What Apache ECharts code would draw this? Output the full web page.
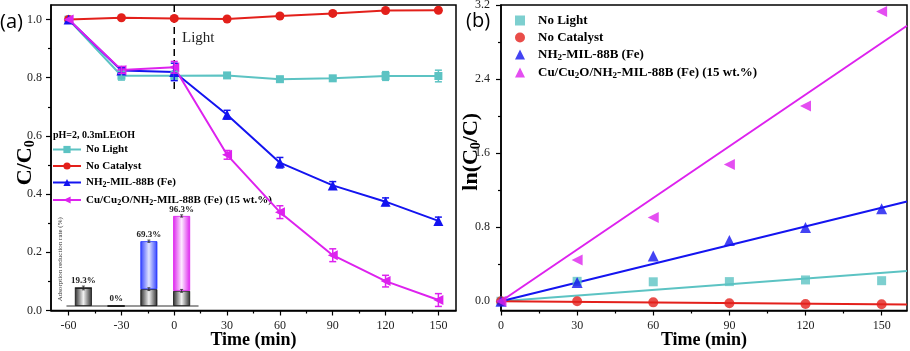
<!DOCTYPE html>
<html><head><meta charset="utf-8">
<script src="https://cdn.jsdelivr.net/npm/echarts@6/dist/echarts.min.js"></script>
<style>html,body{margin:0;padding:0;background:#fff}#c{width:910px;height:351px}</style>
</head><body><div id="c"></div>
<script>
// ---------------- data (panel a) ----------------
const timeA = [-60, -30, 0, 30, 60, 90, 120, 150];
const noLightA = [1.0, 0.807, 0.807, 0.808, 0.795, 0.798, 0.806, 0.806];
const noLightErr = [0, 0.015, 0.015, 0.008, 0.005, 0.006, 0.015, 0.02];
const noCatA = [1.0, 1.006, 1.004, 1.002, 1.012, 1.021, 1.031, 1.032];
const noCatErr = [0, 0.005, 0.005, 0.004, 0.006, 0.006, 0.006, 0.006];
const mil88A = [1.0, 0.825, 0.82, 0.673, 0.508, 0.43, 0.374, 0.308];
const mil88Err = [0, 0.01, 0.03, 0.015, 0.018, 0.013, 0.013, 0.013];
const cuA = [1.0, 0.827, 0.836, 0.535, 0.338, 0.19, 0.101, 0.036];
const cuErr = [0, 0.012, 0.02, 0.015, 0.022, 0.022, 0.02, 0.022];
const lightTime = 0;
const lightSpan = [1.05, 0.75];
const xTicksA = [-60, -30, 0, 30, 60, 90, 120, 150];
const yTicksA = [0, 0.2, 0.4, 0.6, 0.8, 1.0];
// inset bars
const insetCats = ['No Light', 'No Catalyst', 'NH2-MIL-88B (Fe)', 'Cu/Cu2O/NH2-MIL-88B (Fe)'];
const insetTotal = [19.3, 0, 69.3, 96.3];
const insetAds = [19.3, 0, 18.0, 16.2];
const insetErrTop = [2, 0, 1.2, 1.2];
const insetErrAds = [0, 0, 1.5, 1.5];
// ---------------- data (panel b) ----------------
const timeB = [0, 30, 60, 90, 120, 150];
const noLightB = [0, 0.215, 0.21, 0.212, 0.23, 0.222];
const noCatB = [0, 0, -0.012, -0.022, -0.03, -0.032];
const mil88B = [0, 0.203, 0.49, 0.655, 0.796, 0.999];
const cuB = [0, 0.445, 0.905, 1.477, 2.11, 3.13];
const rateK = [0.00204, -0.000225, 0.00674, 0.0186];
const fitRange = [0, 160];
const xTicksB = [0, 30, 60, 90, 120, 150];
const yTicksB = [0, 0.8, 1.6, 2.4, 3.2];

// ---------------- styling ----------------
const SERIF = '"Liberation Serif","Times New Roman",serif';
const C_CYAN = '#5cc3c3', C_RED = '#e3201b', C_BLUE = '#1414f0', C_MAG = '#dd22ee';
const mids = a => a.slice(0, -1).map((v, i) => (v + a[i + 1]) / 2);
const zip = (xs, ys) => xs.map((x, i) => [x, ys[i]]);
const subRichA = { sub: { fontFamily: SERIF, fontWeight: 'bold', fontSize: 8, padding: [5, 0, 0, 0] } };
const subRichB = { sub: { fontFamily: SERIF, fontWeight: 'bold', fontSize: 9, padding: [6, 0, 0, 0] } };
const legendText = {
  a1: 'No Light', a2: 'No Catalyst', a3: 'NH{sub|2}-MIL-88B (Fe)', a4: 'Cu/Cu{sub|2}O/NH{sub|2}-MIL-88B (Fe) (15 wt.%)',
  b1: 'No Light', b2: 'No Catalyst', b3: 'NH{sub|2}-MIL-88B (Fe)', b4: 'Cu/Cu{sub|2}O/NH{sub|2}-MIL-88B (Fe) (15 wt.%)'
};

function mainX(grid, min, max, ticks, name) {
  return {
    type: 'value', gridIndex: grid, min, max, position: 'bottom',
    name, nameLocation: 'middle', nameGap: 21, nameMoveOverlap: false,
    nameTextStyle: { fontFamily: SERIF, fontWeight: 'bold', fontSize: 18, color: '#000' },
    axisLine: { show: true, onZero: false, lineStyle: { color: '#000', width: 1.5 } },
    axisTick: { show: true, customValues: ticks, length: 5, lineStyle: { color: '#000', width: 1.2 } },
    axisLabel: { customValues: ticks, fontFamily: SERIF, fontSize: 12, color: '#222', margin: 9 },
    splitLine: { show: false }
  };
}
function minorX(grid, min, max, ticks) {
  return {
    type: 'value', gridIndex: grid, min, max, position: 'bottom',
    axisLine: { show: false, onZero: false },
    axisTick: { show: true, customValues: ticks, length: 3, lineStyle: { color: '#000', width: 1.2 } },
    axisLabel: { show: false }, splitLine: { show: false }
  };
}
function mainY(grid, min, max, ticks, name, gap, margin, namePad) {
  return {
    type: 'value', gridIndex: grid, min, max, position: 'left',
    name, nameLocation: 'middle', nameGap: gap, nameMoveOverlap: false,
    nameTextStyle: { fontFamily: SERIF, fontWeight: 'bold', fontSize: 22, color: '#000', padding: namePad,
      rich: { sub: { fontFamily: SERIF, fontWeight: 'bold', fontSize: 14, padding: [9, 0, 0, 0] } } },
    axisLine: { show: true, onZero: false, lineStyle: { color: '#000', width: 1.5 } },
    axisTick: { show: true, customValues: ticks, length: 5, lineStyle: { color: '#000', width: 1.2 } },
    axisLabel: { customValues: ticks, fontFamily: SERIF, fontSize: 12, color: '#222', margin,
      formatter: v => v.toFixed(1) },
    splitLine: { show: false }
  };
}
function minorY(grid, min, max, ticks) {
  return {
    type: 'value', gridIndex: grid, min, max, position: 'left',
    axisLine: { show: false, onZero: false },
    axisTick: { show: true, customValues: ticks, length: 3, lineStyle: { color: '#000', width: 1.2 } },
    axisLabel: { show: false }, splitLine: { show: false }
  };
}
function errSeries(xs, ys, es, color, xi, yi, capW, lw) {
  return {
    type: 'custom', xAxisIndex: xi, yAxisIndex: yi, z: 6, silent: true,
    data: xs.map((x, i) => [x, ys[i], es[i]]),
    renderItem(params, api) {
      const x = api.value(0), y = api.value(1), e = api.value(2);
      if (!e) return null;
      const p1 = api.coord([x, y + e]), p2 = api.coord([x, y - e]);
      const st = { stroke: color, lineWidth: lw };
      return { type: 'group', children: [
        { type: 'line', shape: { x1: p1[0], y1: p1[1], x2: p2[0], y2: p2[1] }, style: st },
        { type: 'line', shape: { x1: p1[0] - capW, y1: p1[1], x2: p1[0] + capW, y2: p1[1] }, style: st },
        { type: 'line', shape: { x1: p2[0] - capW, y1: p2[1], x2: p2[0] + capW, y2: p2[1] }, style: st }
      ] };
    }
  };
}
function lineA(name, ys, color, symbol, size, rot) {
  return { name, type: 'line', xAxisIndex: 0, yAxisIndex: 0, data: zip(timeA, ys),
    symbol, symbolSize: size, symbolRotate: rot || 0, z: 4,
    lineStyle: { color, width: 2 }, itemStyle: { color } };
}
function scatB(name, ys, color, symbol, size, rot) {
  return { name, type: 'scatter', xAxisIndex: 2, yAxisIndex: 2, data: zip(timeB, ys),
    symbol, symbolSize: size, symbolRotate: rot || 0, itemStyle: { color }, z: 4 };
}
function fitB(k, color) {
  return { type: 'line', xAxisIndex: 2, yAxisIndex: 2, data: fitRange.map(t => [t, k * t]),
    symbol: 'none', lineStyle: { color, width: 2 }, z: 3, silent: true };
}
const grad = (edge, mid) => ({ type: 'linear', x: 0, y: 0, x2: 1, y2: 0,
  colorStops: [{ offset: 0, color: edge }, { offset: 0.5, color: mid }, { offset: 1, color: edge }] });
const insetTopColors = [grad('#888', '#fff'), grad('#888', '#fff'), grad('#3040ff', '#e0e4ff'), grad('#dd22ee', '#fdeaff')];
const insetTopBorders = ['#111', '#111', '#2030ff', '#dd22ee'];

const gridBase = { show: true, borderColor: '#000', borderWidth: 1.5, backgroundColor: 'transparent',
  containLabel: false, outerBoundsMode: 'none' };

const option = {
  animation: false,
  backgroundColor: '#fff',
  grid: [
    Object.assign({ left: 51, top: 5, width: 405, height: 305.5 }, gridBase),
    Object.assign({ left: 501, top: 5, width: 406, height: 305.5 }, gridBase),
    { left: 67, top: 212.5, width: 131, height: 93.5, containLabel: false, outerBoundsMode: 'none' }
  ],
  xAxis: [
    mainX(0, -70, 160, xTicksA, 'Time (min)'),
    minorX(0, -70, 160, mids(xTicksA)),
    mainX(1, 0, 160, xTicksB, 'Time (min)'),
    minorX(1, 0, 160, mids(xTicksB)),
    { type: 'category', gridIndex: 2, data: insetCats, position: 'bottom',
      axisLine: { show: true, lineStyle: { color: '#777', width: 1.5 } },
      axisTick: { show: false }, axisLabel: { show: false }, splitLine: { show: false } }
  ],
  yAxis: [
    mainY(0, 0, 1.05, yTicksA, 'C/C{sub|0}', 14, 9, [0, 10, 0, 0]),
    minorY(0, 0, 1.05, mids(yTicksA)),
    mainY(1, -0.1, 3.2, yTicksB, 'ln(C{sub|0}/C)', 18, 11, [0, 0, 0, 12]),
    minorY(1, -0.1, 3.2, mids(yTicksB)),
    { type: 'value', gridIndex: 2, min: 0, max: 100, position: 'left',
      name: 'Adsorption reduction rate (%)', nameLocation: 'middle', nameGap: 3, nameMoveOverlap: false,
      nameTextStyle: { fontFamily: SERIF, fontSize: 7, color: '#333' },
      axisLine: { show: false }, axisTick: { show: false }, axisLabel: { show: false }, splitLine: { show: false } }
  ],
  legend: [
    { left: 47, top: 139, orient: 'vertical', itemWidth: 28, itemHeight: 9, itemGap: 5.5,
      data: ['a1', 'a2', 'a3', 'a4'], formatter: n => legendText[n], selectedMode: false,
      textStyle: { fontFamily: SERIF, fontWeight: 'bold', fontSize: 11, color: '#000', rich: subRichA } },
    { left: 510, top: 9, orient: 'vertical', itemWidth: 10, itemHeight: 10, itemGap: 4,
      data: ['b1', 'b2', 'b3', 'b4'], formatter: n => legendText[n], selectedMode: false,
      textStyle: { fontFamily: SERIF, fontWeight: 'bold', fontSize: 13, color: '#000', padding: [0, 0, 0, 8], rich: subRichB } }
  ],
  graphic: [
    { type: 'text', left: 0, top: 12, style: { text: '(a)', font: '20px "Open Sans", sans-serif', fill: '#000' } },
    { type: 'text', left: 466, top: 11, style: { text: '(b)', font: '20px "Open Sans", sans-serif', fill: '#000' } },
    { type: 'text', left: 182, top: 31, style: { text: 'Light', font: '15px ' + SERIF, fill: '#222' } },
    { type: 'text', left: 53, top: 130, style: { text: 'pH=2, 0.3mLEtOH', font: 'bold 10px ' + SERIF, fill: '#000' } }
  ],
  series: [
    { type: 'line', xAxisIndex: 0, yAxisIndex: 0, data: lightSpan.map(v => [lightTime, v]), symbol: 'none',
      lineStyle: { color: '#000', width: 1.5, type: [7, 4] }, z: 2, silent: true },
    lineA('a1', noLightA, C_CYAN, 'rect', 8),
    lineA('a2', noCatA, C_RED, 'circle', 9),
    lineA('a3', mil88A, C_BLUE, 'triangle', 10),
    lineA('a4', cuA, C_MAG, 'triangle', 10, 90),
    errSeries(timeA, noLightA, noLightErr, C_CYAN, 0, 0, 3.5, 1.5),
    errSeries(timeA, noCatA, noCatErr, C_RED, 0, 0, 3.5, 1.5),
    errSeries(timeA, mil88A, mil88Err, C_BLUE, 0, 0, 3.5, 1.5),
    errSeries(timeA, cuA, cuErr, C_MAG, 0, 0, 3.5, 1.5),
    // inset
    { type: 'bar', xAxisIndex: 4, yAxisIndex: 4, stack: 'ins', barWidth: 17, data: insetAds,
      itemStyle: { color: grad('#2a2a2a', '#f2f2f2'), borderColor: '#111', borderWidth: 0.8 } },
    { type: 'bar', xAxisIndex: 4, yAxisIndex: 4, stack: 'ins', barWidth: 17,
      data: insetTotal.map((t, i) => ({ value: +(t - insetAds[i]).toFixed(2),
        itemStyle: { color: insetTopColors[i], borderColor: insetTopBorders[i], borderWidth: 0.8 } })),
      label: { show: true, position: 'top', distance: 2, fontFamily: SERIF, fontWeight: 'bold', fontSize: 9, color: '#222',
        formatter: p => insetTotal[p.dataIndex] + '%' } },
    errSeries(insetCats.map((c, i) => i), insetTotal, insetErrTop, '#222', 4, 4, 1.5, 0.8),
    errSeries(insetCats.map((c, i) => i), insetAds, insetErrAds, '#222', 4, 4, 1.5, 0.8),
    // panel b
    fitB(rateK[0], C_CYAN), fitB(rateK[1], C_RED), fitB(rateK[2], C_BLUE), fitB(rateK[3], C_MAG),
    scatB('b1', noLightB, C_CYAN, 'rect', 9),
    scatB('b2', noCatB, C_RED, 'circle', 10),
    scatB('b3', mil88B, C_BLUE, 'triangle', 11),
    scatB('b4', cuB, C_MAG, 'triangle', 11, 90)
  ]
};
const chart = echarts.init(document.getElementById('c'), null, { renderer: 'canvas' });
chart.setOption(option);
</script></body></html>
